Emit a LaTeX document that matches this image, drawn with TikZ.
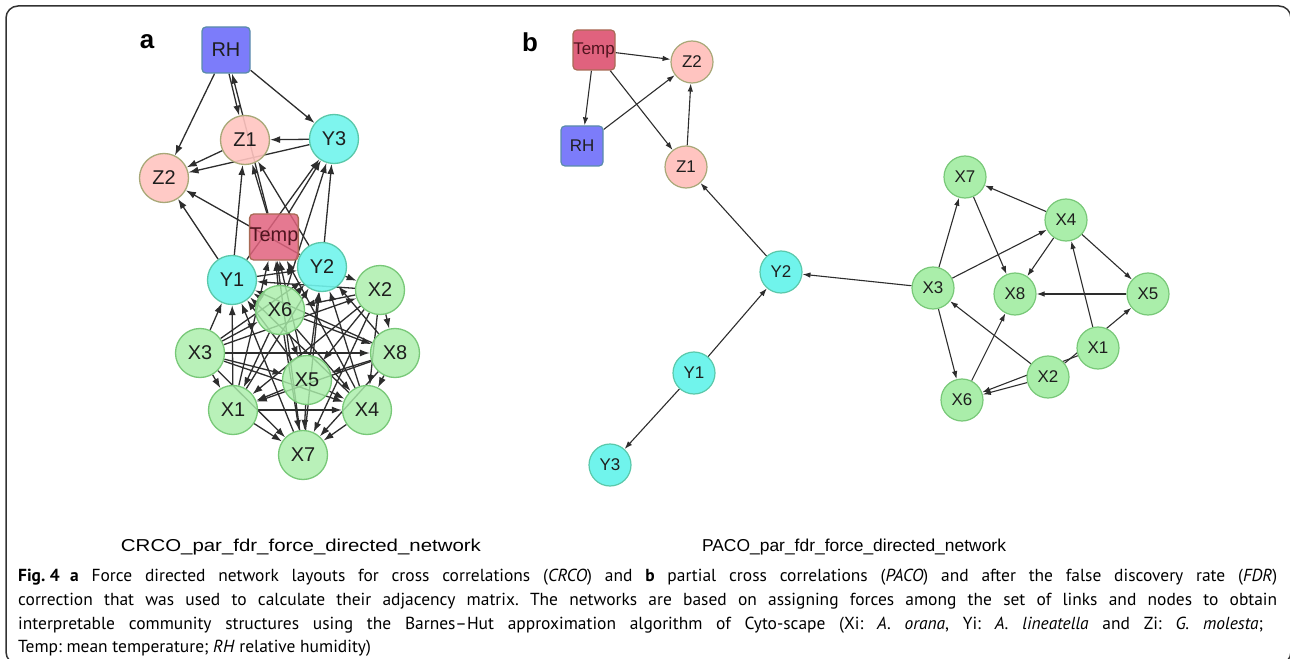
\documentclass[tikz,border=0pt]{standalone}
\usepackage{fontspec}
\setmainfont{PT Sans}
\setsansfont{Liberation Sans}
\newfontfamily\capfont{PT Sans}
\usetikzlibrary{arrows.meta}
\pgfdeclarelayer{bg}
\pgfsetlayers{bg,main}
\frenchspacing
\definecolor{xfill}{RGB}{170,238,170}
\definecolor{xdraw}{RGB}{120,200,120}
\definecolor{yfill}{RGB}{112,244,236}
\definecolor{ydraw}{RGB}{90,200,170}
\definecolor{zfill}{RGB}{255,196,192}
\definecolor{zdraw}{RGB}{168,168,120}
\definecolor{rhfill}{RGB}{124,124,250}
\definecolor{rhdraw}{RGB}{90,140,170}
\definecolor{tfill}{RGB}{224,98,126}
\definecolor{tdraw}{RGB}{168,106,85}
\definecolor{edgec}{RGB}{45,45,45}
\definecolor{labc}{RGB}{30,30,30}
\definecolor{tlab}{RGB}{80,20,30}
\definecolor{framec}{RGB}{50,50,50}
\tikzset{
  nA/.style={circle, minimum size=49bp, inner sep=0pt, line width=1.3bp, text=labc, text opacity=1,
    font=\sffamily\fontsize{20}{22}\selectfont},
  xA/.style={nA, fill=xfill, draw=xdraw, fill opacity=0.82},
  yA/.style={nA, fill=yfill, draw=ydraw, fill opacity=0.9},
  zA/.style={nA, fill=zfill, draw=zdraw, fill opacity=0.9},
  sqA/.style={rectangle, rounded corners=4bp, minimum width=48bp, minimum height=46bp, inner sep=0pt,
    line width=1.3bp, text=labc, text opacity=1, font=\sffamily\fontsize{20}{22}\selectfont},
  rhA/.style={sqA, fill=rhfill, draw=rhdraw},
  tA/.style={sqA, fill=tfill, draw=tdraw, fill opacity=0.85, text=tlab},
  nB/.style={circle, minimum size=42bp, inner sep=0pt, line width=1.2bp, text=labc,
    font=\sffamily\fontsize{17}{19}\selectfont},
  xB/.style={nB, fill=xfill, draw=xdraw},
  yB/.style={nB, fill=yfill, draw=ydraw},
  zB/.style={nB, fill=zfill, draw=zdraw},
  sqB/.style={rectangle, rounded corners=4bp, minimum width=42bp, minimum height=40bp, inner sep=0pt,
    line width=1.2bp, text=labc, font=\sffamily\fontsize{17}{19}\selectfont},
  rhB/.style={sqB, fill=rhfill, draw=rhdraw},
  tB/.style={sqB, fill=tfill, draw=tdraw, text=tlab},
  eA/.style={draw=edgec, line width=1.3bp, -{Latex[length=10bp,width=7bp]}},
  eB/.style={draw=edgec, line width=1.1bp, -{Latex[length=8bp,width=5.5bp]}},
  plabel/.style={font=\sffamily\bfseries\fontsize{26}{28}\selectfont, inner sep=0pt},
  capline/.style={anchor=west, inner sep=0pt, font=\capfont\fontsize{17.5}{21}\selectfont},
  sublabel/.style={inner sep=0pt, font=\sffamily\fontsize{17.3}{19}\selectfont}
}
\begin{document}
\begin{tikzpicture}[x=1bp,y=-1bp]
\useasboundingbox (0,0) rectangle (1290,659);
\begin{scope}
\clip (0,0) rectangle (1290,659);
\draw[framec, line width=1.5bp, rounded corners=12bp] (6,6) rectangle (1291,664);
\end{scope}

% ---------------- panel a ----------------
\node[plabel] (la) at (147,42) {a};
\node[rhA] (aRH) at (226,50) {RH};
\node[zA] (aZ1) at (245,140) {Z1};
\node[yA] (aY3) at (334,139) {Y3};
\node[zA] (aZ2) at (164,178) {Z2};
\node[tA] (aT) at (274,237) {Temp};
\node[yA] (aY1) at (232,280) {Y1};
\node[yA] (aY2) at (322,267) {Y2};
\node[xA] (aX2) at (380,290) {X2};
\node[xA] (aX6) at (280,310) {X6};
\node[xA] (aX3) at (200,353) {X3};
\node[xA] (aX8) at (395,353) {X8};
\node[xA] (aX5) at (307,380) {X5};
\node[xA] (aX1) at (233,410) {X1};
\node[xA] (aX4) at (367,410) {X4};
\node[xA] (aX7) at (303,455) {X7};

\begin{pgfonlayer}{bg}
\draw[eA] (aRH) -- (aZ2);
\draw[eA] ([xshift=3bp]aRH.south) -- (aZ1);
\draw[eA] (aT) -- (aRH);
\draw[eA] (aRH) -- (aY3);
\draw[eA] (aY3) -- (aZ1);
\draw[eA] (aY3) -- (aZ2);
\draw[eA] (aZ1) -- (aZ2);
\draw[eA] (aY2) -- (aZ2);
\draw[eA] (aY1) -- (aZ2);
\draw[eA] (aY1) -- (aZ1);
\draw[eA] (aT) -- (aZ1);
\draw[eA] (aY2) -- (aZ1);
\draw[eA] (aT) -- (aY3);
\draw[eA] (aY1) -- (aY3);
\draw[eA] (aX6) -- (aY3);
\draw[eA] (aY2) -- (aY3);
\draw[eA] (aY2) -- (aX2);
\draw[eA] (aY1) -- (aY2);
% X mesh
\foreach \a/\b in {X3/X1,X1/X7,X3/X7,X3/X5,X3/X8,X3/X4,X3/X2,X3/X6,
  X6/X1,X6/X7,X6/X5,X6/X8,X6/X4,X2/X6,
  X2/X8,X2/X4,X2/X7,X2/X5,X2/X1,
  X8/X4,X8/X7,X8/X5,X8/X1,
  X5/X1,X5/X7,X5/X4,X4/X7,X1/X4,
  X3/Y1,X1/Y1,X5/Y1,X7/Y1,X8/Y1,X4/Y1,X6/Y1,X2/Y1,
  X3/Y2,X1/Y2,X5/Y2,X7/Y2,X8/Y2,X4/Y2,X6/Y2,
  X6/T,X5/T,X1/T,X7/T,X4/T}
  {\draw[eA] (a\a) -- (a\b);}
\end{pgfonlayer}

% ---------------- panel b ----------------
\node[plabel] (lb) at (530,42) {b};
\node[tB] (bT) at (594,50) {Temp};
\node[zB] (bZ2) at (692,62) {Z2};
\node[rhB] (bRH) at (582,146) {RH};
\node[zB] (bZ1) at (686,167) {Z1};
\node[yB] (bY2) at (781,272) {Y2};
\node[yB] (bY1) at (694,373) {Y1};
\node[yB] (bY3) at (610,465) {Y3};
\node[xB] (bX7) at (965,177) {X7};
\node[xB] (bX4) at (1066,220) {X4};
\node[xB] (bX3) at (933,288) {X3};
\node[xB] (bX8) at (1015,294) {X8};
\node[xB] (bX5) at (1148,294) {X5};
\node[xB] (bX1) at (1098,348) {X1};
\node[xB] (bX2) at (1048,377) {X2};
\node[xB] (bX6) at (962,400) {X6};

\begin{pgfonlayer}{bg}
\foreach \a/\b in {T/Z2,T/RH,T/Z1,RH/Z2,Z1/Z2,Y2/Z1,X3/Y2,Y1/Y2,Y1/Y3,
  X4/X7,X3/X7,X7/X8,X3/X4,X4/X8,X4/X5,X1/X4,X5/X8,X2/X5,X2/X6,X1/X6,X2/X3,X3/X6,X6/X8}
  {\draw[eB] (b\a) -- (b\b);}
\end{pgfonlayer}

% ---------------- labels and caption ----------------
\node[sublabel] (subA) at (301,547) {\resizebox{360bp}{\height}{CRCO\_par\_fdr\_force\_directed\_network}};
\node[sublabel] (subB) at (854,547) {\resizebox{304bp}{\height}{PACO\_par\_fdr\_force\_directed\_network}};

\node[capline] (c1) at (18,577) {\makebox[1259bp][s]{\mbox{\textbf{Fig.~4}\hspace*{0.6em}\textbf{a}} Force directed network layouts for cross correlations (\textit{CRCO}) and \textbf{b} partial cross correlations (\textit{PACO}) and after the false discovery rate (\textit{FDR})}};
\node[capline] (c2) at (18,601) {\makebox[1259bp][s]{correction that was used to calculate their adjacency matrix. The networks are based on assigning forces among the set of links and nodes to obtain}};
\node[capline] (c3) at (18,625) {\makebox[1245bp][s]{interpretable community structures using the Barnes–Hut approximation algorithm of Cyto-scape (Xi: \textit{A. orana}, Yi: \textit{A. lineatella} and Zi: \textit{G. molesta};}};
\node[capline] (c4) at (18,648) {Temp: mean temperature; \textit{RH} relative humidity)};
\end{tikzpicture}
\end{document}
